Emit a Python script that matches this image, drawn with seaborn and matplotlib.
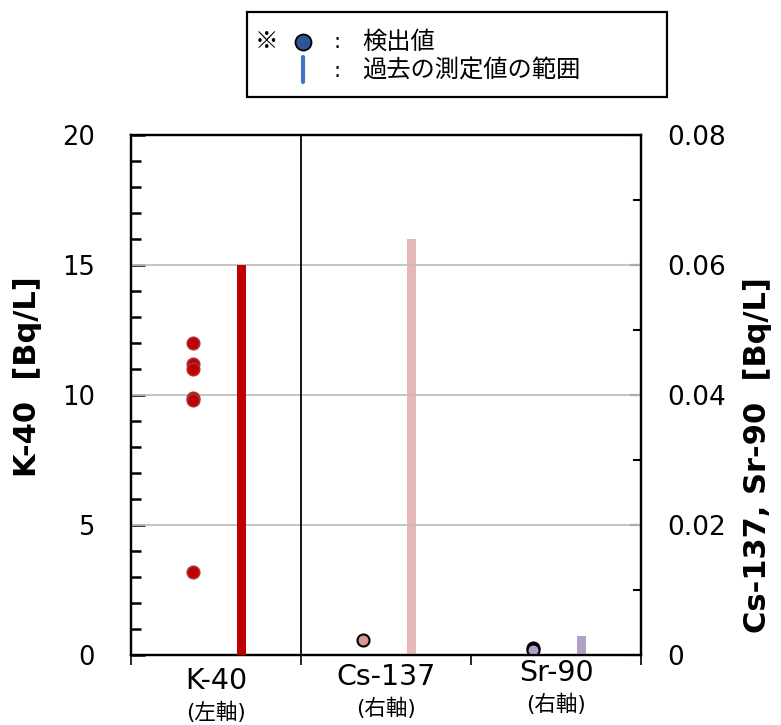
import numpy as np
import pandas as pd
import matplotlib
matplotlib.use('Agg')
import matplotlib.pyplot as plt
import matplotlib.transforms as mtransforms
from matplotlib.lines import Line2D
import seaborn as sns

# data
nuclides = ['K-40', 'Cs-137', 'Sr-90']
axis_notes = ['(左軸)', '(右軸)', '(右軸)']
k40_values = [12.0, 11.2, 11.0, 9.9, 9.8, 3.2]        # left axis, Bq/L
cs137_values = [0.0023]                               # right axis
sr90_values = [0.0011, 0.0008]                        # right axis
past_max = [15.0, 0.064, 0.0029]                      # past range top per nuclide

dot_colors = {'K-40': ['#C00000'] * 6, 'Cs-137': ['#DA9694'], 'Sr-90': ['#1F2D50', '#B1A0C7']}
dot_edges = {'K-40': '#A83232', 'Cs-137': 'black', 'Sr-90': 'black'}
bar_colors = ['#C00000', '#E6B8B7', '#B1A0C7']

sns.set_style('white')
plt.rcParams['font.family'] = ['DejaVu Sans', 'Noto Sans CJK JP']
plt.rcParams.update({'text.color': 'black', 'xtick.color': 'black', 'ytick.color': 'black',
                     'axes.labelcolor': 'black'})

fig = plt.figure(figsize=(7.81, 7.25), dpi=100)
ax = fig.add_axes([0.1677, 0.0966, 0.653, 0.7172])
ax2 = ax.twinx()

dot_off, bar_off, bar_w = -0.135, 0.15, 0.058

pts = pd.DataFrame({
    'nuclide': ['K-40'] * len(k40_values) + ['Cs-137'] * len(cs137_values) + ['Sr-90'] * len(sr90_values),
    'value': k40_values + cs137_values + sr90_values,
})
pts['pos'] = pts['nuclide'].map({n: i for i, n in enumerate(nuclides)}) + dot_off

left = pts[pts.nuclide == 'K-40']
sns.scatterplot(data=left, x='pos', y='value', ax=ax, s=80, color=dot_colors['K-40'][0],
                edgecolor=dot_edges['K-40'], linewidth=1.2, zorder=4, legend=False)
for n in ['Cs-137', 'Sr-90']:
    sub = pts[pts.nuclide == n].reset_index(drop=True)
    for i, row in sub.iterrows():
        sns.scatterplot(x=[row.pos], y=[row.value], ax=ax2, s=75, color=dot_colors[n][i],
                        edgecolor=dot_edges[n], linewidth=1.5, zorder=4, legend=False)

# past ranges
ax.bar([0 + bar_off], [past_max[0]], width=bar_w, color=bar_colors[0], linewidth=0, zorder=3)
ax2.bar([1 + bar_off, 2 + bar_off], past_max[1:], width=bar_w, color=bar_colors[1:], linewidth=0, zorder=3)

ax.set_xlim(-0.5, 2.5)
ax.set_ylim(0, 20)
ax2.set_ylim(0, 0.08)
ax.set_yticks([0, 5, 10, 15, 20])
ax.set_yticks(np.arange(0, 21, 1), minor=True)
ax2.set_yticks([0, 0.02, 0.04, 0.06, 0.08])
ax2.set_yticklabels(['0', '0.02', '0.04', '0.06', '0.08'])
ax2.set_yticks(np.arange(0, 0.081, 0.01), minor=True)
for y in [5, 10, 15]:
    ax.axhline(y, color='#BFBFBF', lw=1.3, zorder=1)
ax.axvline(0.5, color='black', lw=1.3, zorder=2)

ax.set_xticks([-0.5, 0.5, 1.5, 2.5])
ax.set_xticklabels([])
ax.tick_params(axis='x', direction='out', length=7, width=1.2, bottom=True)
ax.tick_params(axis='y', which='major', direction='in', length=10, width=1.8, labelsize=18.5, pad=26, left=True)
ax.tick_params(axis='y', which='minor', direction='in', length=7, width=1.8, left=True)
ax2.tick_params(axis='y', which='major', direction='in', length=8, width=1.5, labelsize=19, pad=19, right=True)
ax2.tick_params(axis='y', which='minor', direction='in', length=6, width=1.5, right=True)
ax.set_xlabel('')
ax.set_ylabel('')
ax2.set_ylabel('')
ax.set_zorder(ax2.get_zorder() + 1)
ax.patch.set_visible(False)
for a in (ax, ax2):
    for sp in a.spines.values():
        sp.set_color('black')
        sp.set_linewidth(1.6)

# axis titles
fig.text(28 / 781, 1 - 377 / 725, 'K-40  [Bq/L]', rotation=90, fontsize=22, fontweight='bold',
         ha='center', va='center')
fig.text(758 / 781, 1 - 455 / 725, 'Cs-137, Sr-90  [Bq/L]', rotation=90, fontsize=22, fontweight='bold',
         ha='center', va='center')

trans = mtransforms.blended_transform_factory(ax.transData, fig.transFigure)
name_y = [681, 677, 673]
note_y = [712, 708, 704]
for i, n in enumerate(nuclides):
    ax.text(i, 1 - name_y[i] / 725, n, transform=trans, ha='center', va='center', fontsize=20.5)
    ax.text(i, 1 - note_y[i] / 725, axis_notes[i], transform=trans, ha='center', va='center', fontsize=15.5)

# legend box
box = plt.Rectangle((247 / 781, 1 - 97 / 725), 420 / 781, 85 / 725, transform=fig.transFigure,
                    fill=False, edgecolor='black', lw=1.6)
fig.patches.append(box)
fig.text(267 / 781, 1 - 42 / 725, '※', fontsize=17, family=['Noto Sans CJK JP'], ha='center', va='center')
fig.add_artist(Line2D([303 / 781], [1 - 42 / 725], marker='o', markersize=11.5, color='#2F5597',
                      markeredgecolor='black', markeredgewidth=1.3, transform=fig.transFigure))
fig.add_artist(Line2D([303 / 781, 303 / 781], [1 - 57 / 725, 1 - 82 / 725], color='#4472C4',
                      lw=3, transform=fig.transFigure))
for yy, t in [(42, '検出値'), (71, '過去の測定値の範囲')]:
    fig.text(337 / 781, 1 - yy / 725, ':', fontsize=15, ha='center', va='center')
    fig.text(362 / 781, 1 - yy / 725, t, fontsize=17.5, ha='left', va='center')

fig.savefig('out.png', dpi=100)
